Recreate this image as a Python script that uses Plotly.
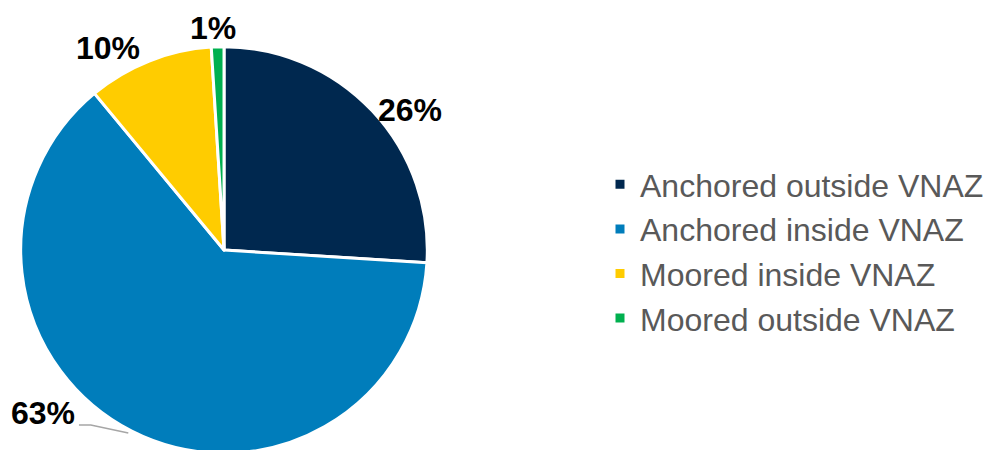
import plotly.graph_objects as go

# Share of vessels by mooring status
categories = [
    "Anchored outside VNAZ",
    "Anchored inside VNAZ",
    "Moored inside VNAZ",
    "Moored outside VNAZ",
]
shares = [26, 63, 10, 1]
colors = ["#00284F", "#007DBB", "#FFCC00", "#00B04F"]

W, H = 989, 500          # figure size in px (the page clips below 450)
CX, R = 227, 206         # pie centre x and half-width of the pie domain in px

# Where each percentage label sits (px, centre of text)
label_pos = [(415, 110), (44, 413), (109, 48), (216, 28)]


def px(x, y):
    return x / W, 1 - y / H


fig = go.Figure(
    go.Pie(
        labels=categories,
        values=shares,
        sort=False,
        direction="clockwise",
        rotation=0,
        marker=dict(colors=colors, line=dict(color="white", width=3)),
        textinfo="none",
        hoverinfo="label+percent",
        domain=dict(x=[(CX - R) / W, (CX + R) / W], y=[0, 1]),
    )
)

total = sum(shares)
for v, (lx, ly) in zip(shares, label_pos):
    ax, ay = px(lx, ly)
    fig.add_annotation(
        x=ax, y=ay, xref="paper", yref="paper",
        text=f"{round(100 * v / total)}%",
        showarrow=False,
        font=dict(family="Liberation Sans, Arial", size=32, color="black", weight="bold"),
        xanchor="center", yanchor="middle",
    )

# Leader line for the 63% label
p = [px(80, 425), px(92, 425), px(130, 433)]
fig.add_shape(
    type="path", xref="paper", yref="paper",
    path=f"M {p[0][0]},{p[0][1]} L {p[1][0]},{p[1][1]} L {p[2][0]},{p[2][1]}",
    line=dict(color="#A6A6A6", width=1.5),
)

fig.update_layout(
    width=W, height=H,
    margin=dict(l=0, r=0, t=0, b=0),
    paper_bgcolor="white",
    plot_bgcolor="white",
    showlegend=True,
    legend=dict(
        x=608 / W, xanchor="left",
        y=1 - 157 / H, yanchor="top",
        font=dict(family="Liberation Sans, Arial", size=32, color="#595959"),
        bgcolor="rgba(0,0,0,0)",
    ),
)

fig.write_html(
    "out.html",
    post_script="document.documentElement.style.overflow='hidden';"
                "document.body.style.overflow='hidden';document.body.style.margin='0';",
)
